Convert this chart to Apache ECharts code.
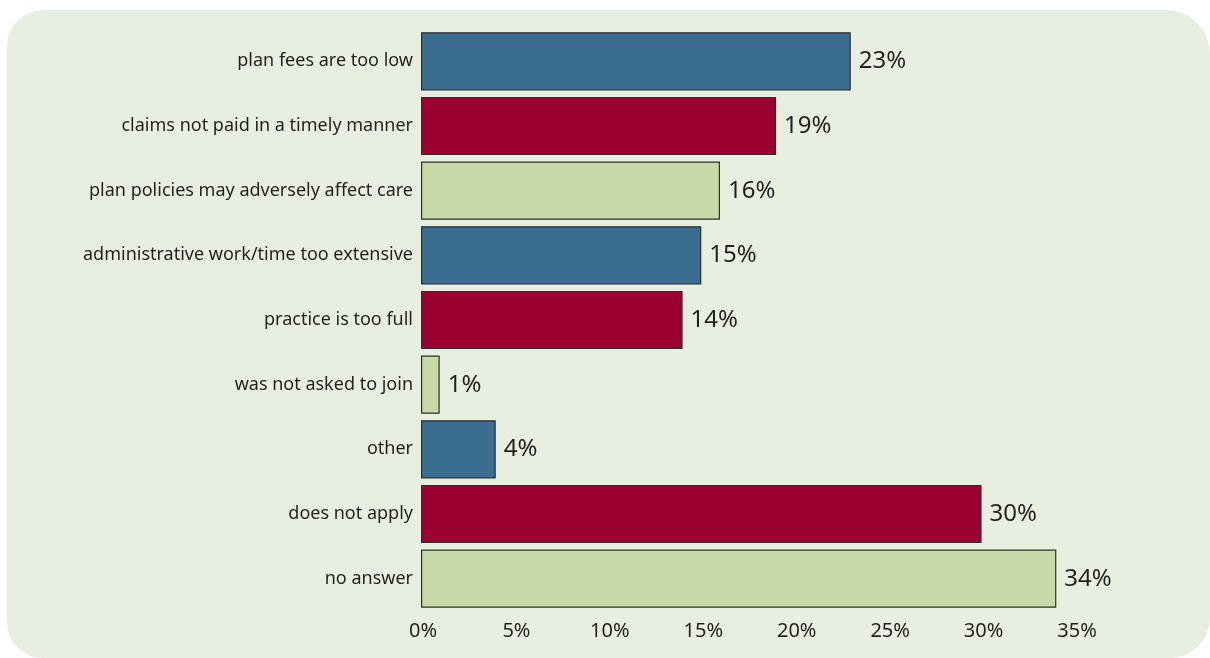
<!DOCTYPE html>
<html>
<head>
<meta charset="utf-8">
<script src="https://cdn.jsdelivr.net/npm/echarts@6/dist/echarts.min.js"></script>
<style>
  html, body { margin: 0; padding: 0; background: #ffffff; }
  #panel {
    position: absolute; left: 7px; top: 10px; width: 1203px; height: 648px;
    background: #e9efe0; border-radius: 36px 44px 40px 36px;
  }
  #chart { position: absolute; left: 0; top: 0; width: 1210px; height: 658px; }
</style>
</head>
<body>
<div id="panel"></div>
<div id="chart"></div>
<script>
// Reasons for not joining a plan, share of respondents (%)
const categories = [
  'plan fees are too low',
  'claims not paid in a timely manner',
  'plan policies may adversely affect care',
  'administrative work/time too extensive',
  'practice is too full',
  'was not asked to join',
  'other',
  'does not apply',
  'no answer'
];
const values = [23, 19, 16, 15, 14, 1, 4, 30, 34];
const palette = ['#3a6d8f', '#9a0030', '#c6d9a7'];
const xTicks = { min: 0, max: 35, interval: 5 };

const textColor = '#231f20';
const fontFamily = '"Noto Sans", "Open Sans", sans-serif';

const chart = echarts.init(document.getElementById('chart'), null, { renderer: 'canvas' });
chart.setOption({
  backgroundColor: 'transparent',
  animation: false,
  grid: { left: 421, right: 135, top: 29, bottom: 47, containLabel: false },
  xAxis: {
    type: 'value',
    min: xTicks.min, max: xTicks.max, interval: xTicks.interval,
    axisLine: { show: false },
    axisTick: { show: false },
    splitLine: { show: false },
    axisLabel: {
      formatter: '{value}%', color: textColor, fontSize: 20, fontFamily,
      margin: 10, padding: [0, 0, 0, 4]
    }
  },
  yAxis: {
    type: 'category',
    data: categories,
    inverse: true,
    axisLine: { show: false },
    axisTick: { show: false },
    splitLine: { show: false },
    axisLabel: { color: textColor, fontSize: 18, fontFamily, margin: 8 }
  },
  series: [{
    type: 'bar',
    data: values.map((v, i) => ({
      value: v,
      itemStyle: { color: palette[i % palette.length] }
    })),
    barCategoryGap: '10%',
    itemStyle: { borderColor: '#2e2e2e', borderWidth: 1.2 },
    label: {
      show: true, position: 'right', distance: 8,
      formatter: '{c}%', color: textColor, fontSize: 24, fontFamily
    }
  }]
});
</script>
</body>
</html>
